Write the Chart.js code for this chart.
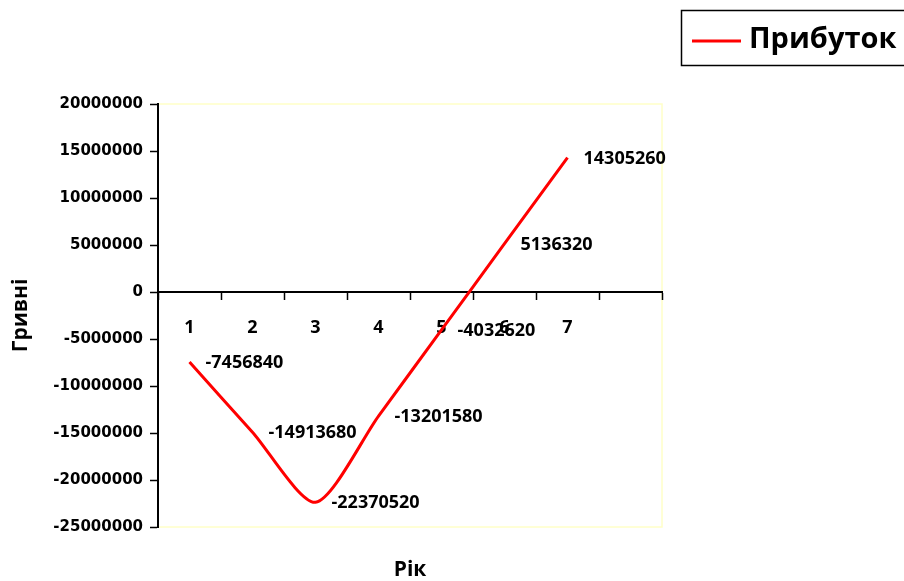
<!DOCTYPE html>
<html>
<head>
<meta charset="utf-8">
<script src="https://cdn.jsdelivr.net/npm/chart.js@4.4.1/dist/chart.umd.min.js"></script>
<style>
  body { margin: 0; background: #fff; }
  #wrap { width: 904px; height: 581px; position: relative; }
</style>
</head>
<body>
<div id="wrap"><canvas id="myChart"></canvas></div>
<script>
const years = ["1", "2", "3", "4", "5", "6", "7", ""];
const profit = [-7456840, -14913680, -22370520, -13201580, -4032620, 5136320, 14305260, null];
const yTicks = [-25000000, -20000000, -15000000, -10000000, -5000000, 0, 5000000, 10000000, 15000000, 20000000];

const ctx = document.getElementById("myChart").getContext("2d");

// yellow frame round the plot area, like the Excel original
const plotFrame = {
  id: "plotFrame",
  beforeDraw(chart) {
    const { ctx, chartArea: a } = chart;
    ctx.save();
    ctx.strokeStyle = "#FFFFC8";
    ctx.lineWidth = 1.5;
    ctx.strokeRect(a.left, a.top, a.right - a.left, a.bottom - a.top);
    ctx.restore();
  },
};

// value labels to the right of every point
const pointLabels = {
  id: "pointLabels",
  afterDatasetsDraw(chart) {
    const { ctx } = chart;
    const meta = chart.getDatasetMeta(0);
    ctx.save();
    ctx.font = "bold 18px 'Open Sans'";
    ctx.fillStyle = "#000";
    ctx.textAlign = "left";
    ctx.textBaseline = "middle";
    meta.data.forEach((pt, i) => {
      const v = chart.data.datasets[0].data[i];
      if (v === null) return;
      ctx.fillText(String(v), pt.x + 16, pt.y + 1);
    });
    ctx.restore();
  },
};

// boxed legend at the top right
const boxLegend = {
  id: "boxLegend",
  afterDraw(chart) {
    const { ctx } = chart;
    const ds = chart.data.datasets[0];
    ctx.save();
    ctx.strokeStyle = "#000";
    ctx.lineWidth = 1.5;
    ctx.strokeRect(681.5, 10.5, 260, 55);
    ctx.strokeStyle = ds.borderColor;
    ctx.lineWidth = 3;
    ctx.beginPath();
    ctx.moveTo(692, 41);
    ctx.lineTo(741, 41);
    ctx.stroke();
    ctx.fillStyle = "#000";
    ctx.font = "bold 29px 'Open Sans'";
    ctx.textBaseline = "middle";
    ctx.fillText(ds.label, 749, 40);
    ctx.restore();
  },
};

new Chart(ctx, {
  type: "line",
  data: {
    labels: years,
    datasets: [
      {
        label: "Прибуток",
        data: profit,
        borderColor: "#FF0000",
        borderWidth: 3,
        pointRadius: 0,
        tension: 0.25,
        fill: false,
      },
    ],
  },
  options: {
    responsive: true,
    maintainAspectRatio: false,
    animation: false,
    layout: { padding: { top: 104, right: 242, left: 0, bottom: 0 } },
    scales: {
      x: {
        position: { y: 0 },
        offset: true,
        afterFit: (s) => { s.height = 0; },
        grid: {
          offset: true,
          drawOnChartArea: false,
          tickLength: 7,
          tickColor: "#000",
          tickWidth: 1.5,
        },
        border: { color: "#000", width: 2 },
        ticks: {
          color: "#000",
          padding: 18,
          maxRotation: 0,
          autoSkip: false,
          font: { family: "'Open Sans'", size: 18, weight: "bold" },
        },
      },
      // bottom axis only carries the "Рік" title
      x2: {
        type: "category",
        position: "bottom",
        labels: years,
        afterFit: (s) => { s.height = 54; },
        grid: { display: false },
        border: { display: false },
        ticks: { display: false },
        title: {
          display: true,
          text: "Рік",
          color: "#000",
          padding: 0,
          font: { family: "'Open Sans'", size: 21, weight: "bold", lineHeight: 1 },
        },
      },
      y: {
        min: -25000000,
        max: 20000000,
        afterFit: (s) => { s.width = 158; },
        afterBuildTicks: (s) => { s.ticks = yTicks.map((v) => ({ value: v })); },
        grid: {
          drawOnChartArea: false,
          tickLength: 8,
          tickColor: "#000",
          tickWidth: 1.5,
        },
        border: { color: "#000", width: 2 },
        ticks: {
          color: "#000",
          padding: 7,
          callback: (v) => String(v),
          font: { family: "'DejaVu Sans'", size: 15, weight: "bold" },
        },
        title: {
          display: true,
          text: "Гривні",
          color: "#000",
          padding: { top: 8, bottom: 0 },
          font: { family: "'Open Sans'", size: 21, weight: "bold" },
        },
      },
    },
    plugins: {
      legend: { display: false },
      tooltip: { enabled: false },
    },
  },
  plugins: [plotFrame, pointLabels, boxLegend],
});
</script>
</body>
</html>
